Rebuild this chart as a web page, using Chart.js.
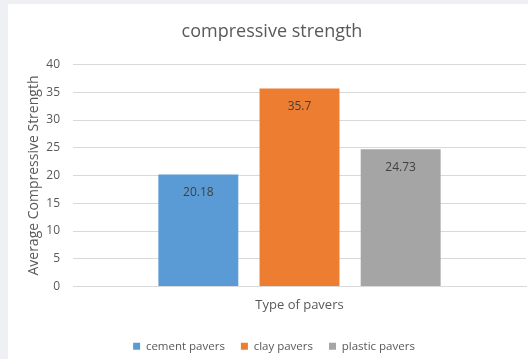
<!DOCTYPE html>
<html>
<head>
<meta charset="utf-8">
<script src="https://cdn.jsdelivr.net/npm/chart.js@4/dist/chart.umd.min.js"></script>
<style>
  html, body { margin: 0; padding: 0; background: #eef0f3; }
  #wrap { position: absolute; left: 0; top: 0; width: 528px; height: 359px; }
</style>
</head>
<body>
<div id="wrap"><canvas id="chart" width="528" height="359"></canvas></div>
<script>
// Chart data
const categories = ['Type of pavers'];
const seriesNames = ['cement pavers', 'clay pavers', 'plastic pavers'];
const cementValues = [20.18];
const clayValues = [35.7];
const plasticValues = [24.73];
const yTickValues = [0, 5, 10, 15, 20, 25, 30, 35, 40];

const seriesColors = ['#5b9bd5', '#ed7d31', '#a5a5a5'];
const FONT = '"Open Sans", "DejaVu Sans", sans-serif';
const TEXT = '#595959';

// White panel on the light grey page
const panelPlugin = {
  id: 'panel',
  beforeDraw(chart) {
    const ctx = chart.ctx;
    ctx.save();
    ctx.fillStyle = '#eef0f3';
    ctx.fillRect(0, 0, chart.width, chart.height);
    ctx.fillStyle = '#ffffff';
    ctx.fillRect(8, 4, chart.width - 8, chart.height - 4);
    ctx.restore();
  },
  // the panel runs past the right edge, so title and legend sit a little right of centre
  afterLayout(chart) {
    if (chart.titleBlock) chart.titleBlock.left += 10;
    if (chart.legend) {
      chart.legend.left += 14;
      chart.legend.adjustHitBoxes();
    }
  }
};

// Value labels just inside the top of each bar
const valueLabelPlugin = {
  id: 'valueLabels',
  afterDatasetsDraw(chart) {
    const ctx = chart.ctx;
    ctx.save();
    ctx.font = '12px ' + FONT;
    ctx.fillStyle = '#404040';
    ctx.textAlign = 'center';
    ctx.textBaseline = 'middle';
    chart.data.datasets.forEach((ds, i) => {
      const meta = chart.getDatasetMeta(i);
      meta.data.forEach((bar, j) => {
        ctx.fillText(String(ds.data[j]), bar.x, bar.y + 18);
      });
    });
    ctx.restore();
  }
};

const seriesValues = [cementValues, clayValues, plasticValues];

new Chart(document.getElementById('chart'), {
  type: 'bar',
  data: {
    labels: categories,
    datasets: seriesNames.map((name, i) => ({
      label: name,
      data: seriesValues[i],
      backgroundColor: seriesColors[i],
      borderWidth: 0,
      categoryPercentage: 0.67,
      barPercentage: 0.79
    }))
  },
  options: {
    responsive: false,
    animation: false,
    devicePixelRatio: 1,
    layout: { padding: { left: 8, top: 4, right: 2, bottom: -3 } },
    plugins: {
      title: {
        display: true,
        text: 'compressive strength',
        color: TEXT,
        font: { family: FONT, size: 18, weight: 'normal' },
        padding: { top: 17, bottom: 22 }
      },
      legend: {
        position: 'bottom',
        labels: {
          color: TEXT,
          font: { family: FONT, size: 11.5 },
          boxWidth: 7,
          boxHeight: 7,
          padding: 16
        }
      },
      tooltip: { enabled: false }
    },
    scales: {
      x: {
        grid: { display: false },
        border: { display: true, color: '#d9d9d9' },
        ticks: { color: TEXT, font: { family: FONT, size: 13 }, padding: 3 },
        afterFit(scale) { scale.height = 38; }
      },
      y: {
        min: 0,
        max: 40,
        afterBuildTicks(scale) { scale.ticks = yTickValues.map(v => ({ value: v })); },
        grid: { color: '#d9d9d9', drawTicks: false },
        border: { display: false },
        ticks: { color: TEXT, font: { family: FONT, size: 12 }, padding: 13 },
        title: {
          display: true,
          text: 'Average Compressive Strength',
          color: TEXT,
          font: { family: FONT, size: 14 },
          padding: { top: 18, bottom: 0 }
        },
        afterFit(scale) { scale.width = 65; }
      }
    }
  },
  plugins: [panelPlugin, valueLabelPlugin]
});
</script>
</body>
</html>
